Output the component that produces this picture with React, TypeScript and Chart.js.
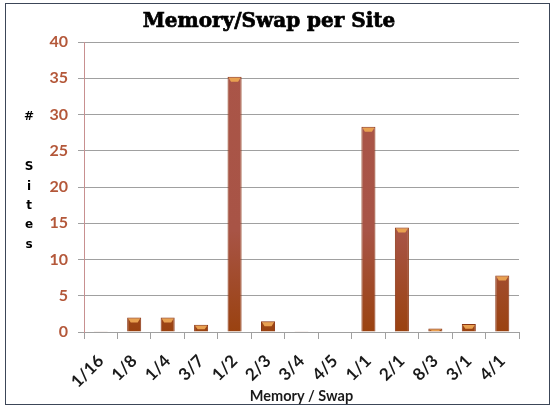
import React, { useEffect, useRef } from 'react';
import { Chart, registerables } from 'chart.js';

Chart.register(...registerables);

const categories = ['1/16', '1/8', '1/4', '3/7', '1/2', '2/3', '3/4', '4/5', '1/1', '2/1', '8/3', '3/1', '4/1'];
const sites = [0.1, 2, 2, 1, 35.2, 1.5, 0.1, 0, 28.3, 14.4, 0.5, 1.1, 7.8];
const yMin = 0;
const yMax = 40;
const yStep = 5;
const titleText = 'Memory/Swap per Site';
const xTitleText = 'Memory / Swap';
const yTitleLetters = ['#', 'S', 'i', 't', 'e', 's'];

const W = 553;
const H = 408;

const decorPlugin = {
  id: 'decor',
  afterDatasetsDraw(chart: any) {
    const ctx = chart.ctx;
    const meta = chart.getDatasetMeta(0);
    ctx.save();
    meta.data.forEach((bar: any) => {
      const { x, y, base, width } = bar.getProps(['x', 'y', 'base', 'width'], true);
      const h = base - y;
      if (h < 1.5) return;
      const capH = Math.min(4, h / 2);
      ctx.fillStyle = '#E8A050';
      ctx.beginPath();
      ctx.moveTo(x - width / 2 + 1, y + 1);
      ctx.lineTo(x + width / 2 - 1, y + 1);
      ctx.lineTo(x + width / 4, y + 1 + capH);
      ctx.lineTo(x - width / 4, y + 1 + capH);
      ctx.closePath();
      ctx.fill();
    });
    ctx.restore();
  },
  afterDraw(chart: any) {
    const ctx = chart.ctx;
    ctx.save();
    ctx.fillStyle = '#000';
    ctx.strokeStyle = '#000';
    ctx.lineWidth = 0.7;
    ctx.textAlign = 'center';
    ctx.textBaseline = 'middle';
    ctx.font = 'bold 20px "DejaVu Serif"';
    ctx.fillText(titleText, 269, 22);
    ctx.strokeText(titleText, 269, 22);
    ctx.font = 'bold 12px "DejaVu Sans"';
    const ys = [117, 167, 187, 206, 225, 245];
    yTitleLetters.forEach((ch, i) => ctx.fillText(ch, 29, ys[i]));
    ctx.restore();
  },
};

export default function App() {
  const ref = useRef<HTMLCanvasElement>(null);
  useEffect(() => {
    document.body.style.margin = '0';
    const canvas = ref.current!;
    const chart = new Chart(canvas, {
      type: 'bar',
      data: {
        labels: categories,
        datasets: [
          {
            data: sites,
            backgroundColor: (c: any) => {
              const area = c.chart.chartArea;
              if (!area) return '#A85446';
              const g = c.chart.ctx.createLinearGradient(0, area.bottom, 0, area.top);
              g.addColorStop(0, '#9A4210');
              g.addColorStop(0.35, '#A85446');
              g.addColorStop(1, '#AA5548');
              return g;
            },
            borderColor: '#8A3412',
            borderWidth: 1,
            barPercentage: 0.42,
            categoryPercentage: 1,
          },
        ],
      },
      plugins: [decorPlugin],
      options: {
        responsive: false,
        animation: false,
        layout: { padding: { top: 42, right: 34, left: 0, bottom: 0 } },
        plugins: {
          legend: { display: false },
          tooltip: { enabled: false },
          title: { display: false },
        },
        scales: {
          x: {
            afterFit: (s: any) => {
              s.height = 76;
            },
            grid: {
              offset: true,
              drawOnChartArea: false,
              drawTicks: true,
              tickLength: 7,
              color: '#A0A0A0',
            },
            border: { color: '#A0A0A0' },
            ticks: {
              minRotation: 45,
              maxRotation: 45,
              padding: 12,
              color: '#1a1a1a',
              font: { family: 'Lato', weight: 'bold', size: 17 },
            },
            title: {
              display: true,
              text: xTitleText,
              color: '#1a1a1a',
              font: { family: 'Lato', weight: 'bold', size: 14.5 },
              padding: { top: 0, bottom: 3 },
            },
          },
          y: {
            min: yMin,
            max: yMax,
            afterFit: (s: any) => {
              s.width = 84;
            },
            ticks: {
              stepSize: yStep,
              padding: 10,
              color: '#B4583A',
              font: { family: 'Lato', weight: 'bold', size: 16 },
            },
            grid: {
              color: '#A0A0A0',
              tickLength: 6,
            },
            border: { color: '#C89090' },
          },
        },
      },
    });
    return () => chart.destroy();
  }, []);
  return (
    <div style={{ position: 'relative', width: W, height: H, background: '#fff' }}>
      <canvas ref={ref} width={W} height={H} style={{ position: 'absolute', left: 0, top: 0 }} />
      <div
        style={{
          position: 'absolute',
          left: 5,
          top: 3,
          width: W - 8,
          height: H - 6,
          border: '1px solid #3c4658',
          boxSizing: 'border-box',
          pointerEvents: 'none',
        }}
      />
    </div>
  );
}
